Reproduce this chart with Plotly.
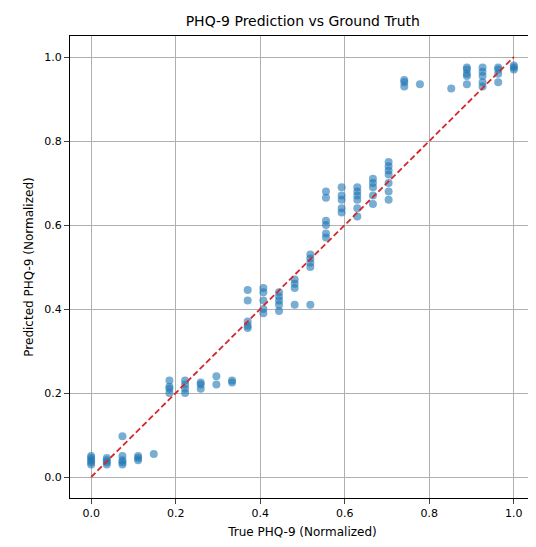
import plotly.graph_objects as go

k = 1/27
true_idx = [0]*5 + [1]*4 + [2]*5 + [3]*3 + [4] + [5]*4 + [6]*4 + [7]*3 + [8]*2 + [9]*2 + \
    [10]*5 + [11]*5 + [12]*5 + [13]*4 + [14]*5 + [15]*6 + [16]*5 + [17]*6 + [18]*5 + [19]*7 + \
    [20]*3 + [21] + [23] + [24]*5 + [25]*5 + [26]*4 + [27]*3
pred = [0.03,0.04,0.05,0.045,0.035,
        0.035,0.04,0.045,0.03,
        0.03,0.04,0.05,0.097,0.035,
        0.04,0.05,0.045,
        0.055,
        0.20,0.21,0.215,0.23,
        0.20,0.21,0.22,0.23,
        0.21,0.22,0.225,
        0.22,0.24,
        0.225,0.23,
        0.355,0.36,0.37,0.42,0.445,
        0.39,0.40,0.42,0.44,0.45,
        0.395,0.41,0.42,0.43,0.44,
        0.41,0.45,0.46,0.47,
        0.41,0.50,0.51,0.52,0.53,
        0.57,0.58,0.60,0.61,0.665,0.68,
        0.63,0.64,0.66,0.67,0.69,
        0.62,0.64,0.66,0.67,0.68,0.69,
        0.65,0.67,0.69,0.70,0.71,
        0.66,0.68,0.70,0.72,0.73,0.74,0.75,
        0.93,0.94,0.945,
        0.935,
        0.925,
        0.935,0.955,0.96,0.97,0.975,
        0.93,0.94,0.955,0.965,0.975,
        0.94,0.96,0.97,0.975,
        0.97,0.975,0.98]
true_vals = [i*k for i in true_idx]

fig = go.Figure()
fig.add_trace(go.Scatter(x=true_vals, y=pred, mode="markers",
    marker=dict(color="#1f77b4", opacity=0.6, size=8, line=dict(width=0))))
fig.add_trace(go.Scatter(x=[0,1], y=[0,1], mode="lines",
    line=dict(color="#d62728", dash="6px,3px", width=1.8)))
ax = dict(range=[-0.05,1.05], tickvals=[0,0.2,0.4,0.6,0.8,1.0], tickformat=".1f",
          showgrid=True, gridcolor="#b0b0b0", zeroline=False, showline=True, mirror=True,
          linecolor="black", ticks="outside", automargin=False,
          tickfont=dict(size=11, family="DejaVu Sans", color="black"))
fig.update_layout(width=536, height=547, plot_bgcolor="white", paper_bgcolor="white",
    showlegend=False, margin=dict(l=62, r=9, t=28, b=57, autoexpand=False),
    title=dict(text="PHQ-9 Prediction vs Ground Truth", x=0.55, xanchor="center",
               y=1-13/547, yanchor="middle", yref="container",
               font=dict(size=14, family="DejaVu Sans", color="black")),
    font=dict(family="DejaVu Sans", color="black"))
fig.update_xaxes(**ax, title=dict(text="True PHQ-9 (Normalized)", font=dict(size=12), standoff=8))
fig.update_yaxes(**ax, title=dict(text="Predicted PHQ-9 (Normalized)", font=dict(size=12), standoff=8))
fig.write_html("out.html")
